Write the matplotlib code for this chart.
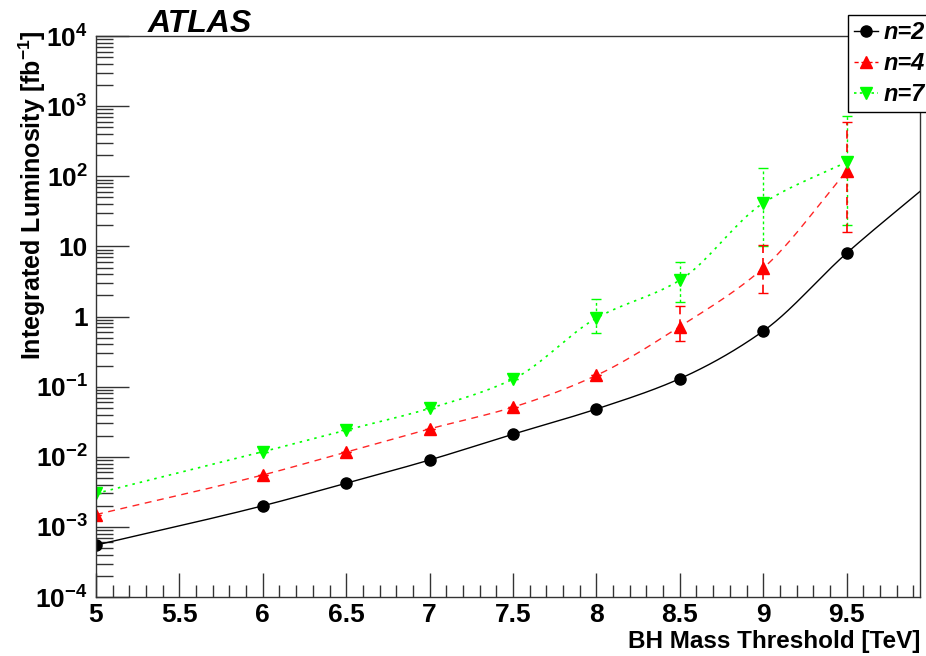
import numpy as np
import matplotlib
matplotlib.use("Agg")
import matplotlib.pyplot as plt
from matplotlib.ticker import MultipleLocator, LogLocator, FixedLocator, FuncFormatter, NullFormatter

plt.rcParams['font.family'] = ['Liberation Sans', 'DejaVu Sans']
plt.rcParams['font.weight'] = 'bold'
plt.rcParams['mathtext.fontset'] = 'custom'
plt.rcParams['mathtext.rm'] = 'Liberation Sans:bold'
plt.rcParams['mathtext.it'] = 'Liberation Sans:bold:italic'
plt.rcParams['mathtext.bf'] = 'Liberation Sans:bold'

# data
mass = [5.0, 6.0, 6.5, 7.0, 7.5, 8.0, 8.5, 9.0, 9.5]
lumi_n2 = [5.5e-4, 2.0e-3, 4.2e-3, 9.0e-3, 0.021, 0.048, 0.13, 0.62, 8.0]
mass_n2_ext = 10.0          # last n=2 point sits just past the frame
lumi_n2_ext = 80.0

lumi_n4 = [1.5e-3, 5.5e-3, 0.0117, 0.025, 0.051, 0.145, 0.72, 4.9, 118.0]
n4_lo = [1.5e-3, 5.5e-3, 0.0117, 0.025, 0.051, 0.145, 0.45, 2.15, 16.0]
n4_hi = [1.5e-3, 5.5e-3, 0.0117, 0.025, 0.051, 0.145, 1.4, 10.5, 590.0]

lumi_n7 = [3.0e-3, 0.0118, 0.024, 0.049, 0.128, 0.95, 3.3, 41.5, 160.0]
n7_lo = [3.0e-3, 0.0118, 0.024, 0.049, 0.128, 0.58, 1.6, 10.0, 20.0]
n7_hi = [3.0e-3, 0.0118, 0.024, 0.049, 0.128, 1.8, 6.0, 130.0, 720.0]


def smooth(x, y, n=40):
    # monotone cubic through the points in log space (drawn like ROOT "C")
    x = np.asarray(x, float)
    ly = np.log10(np.asarray(y, float))
    h = np.diff(x)
    d = np.diff(ly) / h
    m = np.zeros_like(ly)
    m[0], m[-1] = d[0], d[-1]
    for i in range(1, len(x) - 1):
        if d[i - 1] * d[i] > 0:
            w1 = 2 * h[i] + h[i - 1]
            w2 = h[i] + 2 * h[i - 1]
            m[i] = (w1 + w2) / (w1 / d[i - 1] + w2 / d[i])
    xs, ys = [], []
    for i in range(len(x) - 1):
        t = np.linspace(0, 1, n, endpoint=False)
        h00 = 2 * t**3 - 3 * t**2 + 1
        h10 = t**3 - 2 * t**2 + t
        h01 = -2 * t**3 + 3 * t**2
        h11 = t**3 - t**2
        xs.append(x[i] + t * h[i])
        ys.append(h00 * ly[i] + h10 * h[i] * m[i] + h01 * ly[i + 1] + h11 * h[i] * m[i + 1])
    xs.append([x[-1]])
    ys.append([ly[-1]])
    return np.concatenate(xs), 10 ** np.concatenate(ys)


fig = plt.figure(figsize=(9.26, 6.56), dpi=100)
ax = fig.add_axes([0.1037, 0.0899, 0.8898, 0.8551])
ax.set_yscale('log')
ax.set_xlim(5, 9.94)
ax.set_ylim(1e-4, 1e4)

# curves
xs, ys = smooth(mass + [mass_n2_ext], lumi_n2 + [lumi_n2_ext])
ax.plot(xs, ys, color='black', lw=1.0)
xs, ys = smooth(mass, lumi_n4)
ax.plot(xs, ys, color='red', lw=1.0, ls=(0, (5, 4)), alpha=0.85)
xs, ys = smooth(mass, lumi_n7)
ax.plot(xs, ys, color='#00ff00', lw=1.2, ls=(0, (1.5, 3)))

# error bars
def errs(v, lo, hi):
    v = np.array(v)
    return [v - np.array(lo), np.array(hi) - v]

eb = ax.errorbar(mass, lumi_n7, yerr=errs(lumi_n7, n7_lo, n7_hi), fmt='none',
                 ecolor='#00ff00', elinewidth=1.0, capsize=3.5, capthick=1.0)
eb[2][0].set_linestyle((0, (2, 2)))
eb = ax.errorbar(mass, lumi_n4, yerr=errs(lumi_n4, n4_lo, n4_hi), fmt='none',
                 ecolor='red', elinewidth=1.2, capsize=3.5, capthick=1.0)
eb[2][0].set_linestyle((0, (5, 3)))

# markers
ax.plot(mass + [mass_n2_ext], lumi_n2 + [lumi_n2_ext], 'o', color='black', ms=8)
ax.plot(mass, lumi_n4, '^', color='red', ms=8.5)
ax.plot(mass, lumi_n7, 'v', color='#00ff00', ms=8.5)

# legend proxies
h2, = ax.plot([], [], '-o', color='black', lw=1.0, ms=8)
h4, = ax.plot([], [], '^', color='red', ms=8.5, ls=(0, (3, 2)), lw=1.0)
h7, = ax.plot([], [], 'v', color='#00ff00', ms=8.5, ls=(0, (1.5, 2)), lw=1.2)
leg = fig.legend([h2, h4, h7], ['n=2', 'n=4', 'n=7'], loc='upper left',
                 bbox_to_anchor=(848 / 926, 1 - 15 / 656), frameon=True, fancybox=False,
                 edgecolor='black', framealpha=1, handlelength=1.0, handletextpad=0.25,
                 borderpad=0.25, labelspacing=0.35, borderaxespad=0,
                 prop={'family': 'Liberation Sans', 'weight': 'bold', 'style': 'italic', 'size': 17})
leg.get_frame().set_linewidth(1.0)

# axes ticks
ax.xaxis.set_major_locator(MultipleLocator(0.5))
ax.xaxis.set_minor_locator(MultipleLocator(0.1))
ax.xaxis.set_major_formatter(FuncFormatter(lambda v, p: f"{v:g}" if v < 9.9 else ""))
ax.yaxis.set_major_locator(FixedLocator([10.0 ** k for k in range(-4, 5)]))
ax.yaxis.set_minor_locator(LogLocator(base=10, subs=np.arange(2, 10), numticks=20))
ax.yaxis.set_minor_formatter(NullFormatter())


def yfmt(v, p):
    k = int(round(np.log10(v)))
    if k == 0:
        return "1"
    if k == 1:
        return "10"
    return f"$10^{{{k}}}$"


ax.yaxis.set_major_formatter(FuncFormatter(yfmt))
ax.tick_params(axis='both', which='both', direction='in', top=False, right=False,
               labelsize=19, width=1.0, color='#333333')
ax.tick_params(axis='x', which='major', length=17, pad=4)
ax.tick_params(axis='x', which='minor', length=9)
ax.tick_params(axis='y', which='major', length=24, pad=6)
ax.tick_params(axis='y', which='minor', length=12)
for s in ax.spines.values():
    s.set_linewidth(1.0)
    s.set_color('#333333')

ax.set_xlabel('BH Mass Threshold [TeV]', fontsize=17.5, fontweight='bold')
ax.xaxis.set_label_coords(1.0, -0.079)
ax.xaxis.label.set_horizontalalignment('right')
ax.xaxis.label.set_verticalalignment('center')
ax.set_ylabel('Integrated Luminosity [fb$^{-1}$]', fontsize=18, fontweight='bold')
ax.yaxis.set_label_coords(-0.077, 1.01)
ax.yaxis.label.set_horizontalalignment('right')
ax.yaxis.label.set_verticalalignment('center')

fig.text(148 / 926, 1 - 24 / 656, 'ATLAS', fontsize=23, fontweight='bold', style='italic',
         va='center', ha='left')

fig.savefig('out.png', dpi=100)
